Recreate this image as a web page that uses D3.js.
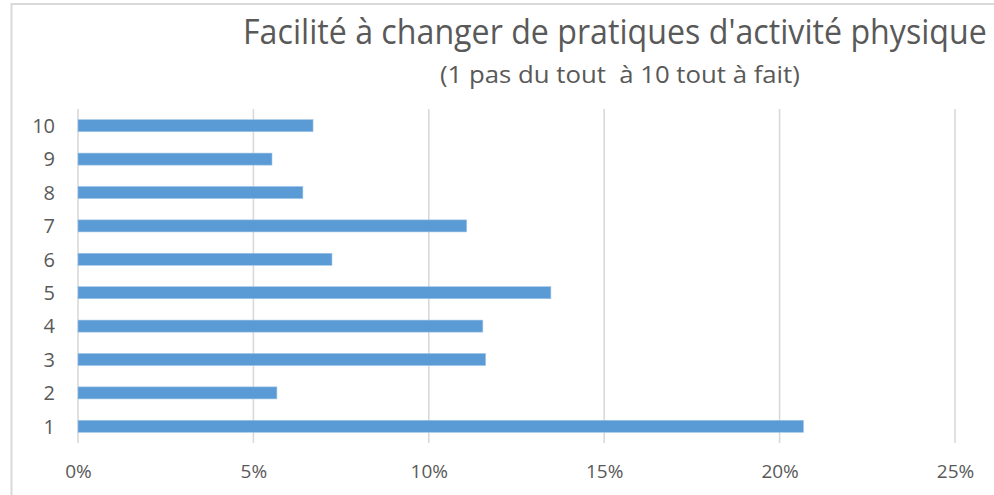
<!DOCTYPE html>
<html>
<head>
<meta charset="utf-8">
<script src="https://cdn.jsdelivr.net/npm/d3@7"></script>
<style>
  body { margin: 0; background: #fff; }
  svg text { font-family: "Open Sans", "Liberation Sans", sans-serif; fill: #595959; }
</style>
</head>
<body>
<svg id="chart" width="994" height="495"></svg>
<script>
// data
var categories = ["10", "9", "8", "7", "6", "5", "4", "3", "2", "1"];
var values = [0.067, 0.0553, 0.0641, 0.1108, 0.0724, 0.1348, 0.1154, 0.1162, 0.0567, 0.2068];
var xTicks = [0, 0.05, 0.10, 0.15, 0.20, 0.25];
var title = "Facilité à changer de pratiques d'activité physique";
var subtitle = "(1 pas du tout \u00a0à 10 tout à fait)";

var svg = d3.select("#chart");

// chart frame (cut by the picture on right and bottom)
svg.append("path")
    .attr("d", "M11.5,500 L11.5,4 L1000,4")
    .attr("fill", "none")
    .attr("stroke", "#d9d9d9")
    .attr("stroke-width", 2);

var x = d3.scaleLinear().domain([0, 0.25]).range([78, 955]);
var y = d3.scaleBand().domain(categories).range([109, 443])
    .paddingInner(0.64).paddingOuter(0.32);

// gridlines
svg.append("g").selectAll("line")
    .data(xTicks)
    .enter().append("line")
    .attr("x1", function(d) { return x(d); })
    .attr("x2", function(d) { return x(d); })
    .attr("y1", 109)
    .attr("y2", 443)
    .attr("stroke", "#d9d9d9")
    .attr("stroke-width", 1.6);

// bars
svg.append("g").selectAll("rect")
    .data(values)
    .enter().append("rect")
    .attr("x", x(0))
    .attr("y", function(d, i) { return y(categories[i]); })
    .attr("width", function(d) { return x(d) - x(0); })
    .attr("height", y.bandwidth())
    .attr("fill", "#5b9bd5")
    .attr("stroke", "#9dc3e6")
    .attr("stroke-width", 0.6);

// y axis labels
var yAxis = d3.axisLeft(y).tickSize(0).tickPadding(0);
var gy = svg.append("g").attr("transform", "translate(55,0)").call(yAxis);
gy.select(".domain").remove();
gy.selectAll("text")
    .attr("font-size", 20)
    .attr("dy", "0.36em")
    .attr("x", 0);

// x axis labels
var xAxis = d3.axisBottom(x).tickValues(xTicks).tickSize(0).tickPadding(0)
    .tickFormat(d3.format(".0%"));
var gx = svg.append("g").attr("transform", "translate(0,478)").call(xAxis);
gx.select(".domain").remove();
gx.selectAll("text")
    .attr("font-size", 19)
    .attr("dy", "0");

// titles: narrow the glyphs to the Calibri-like width of the original
function fitText(txt, left, base, size, width) {
    var t = svg.append("text")
        .attr("font-size", size)
        .text(txt);
    var w = t.node().getComputedTextLength();
    t.attr("transform", "translate(" + left + "," + base + ") scale(" + (width / w) + ",1)");
    return t;
}
fitText(title, 243, 44, 34, 744);
fitText(subtitle, 440, 83, 23, 360);
</script>
</body>
</html>
